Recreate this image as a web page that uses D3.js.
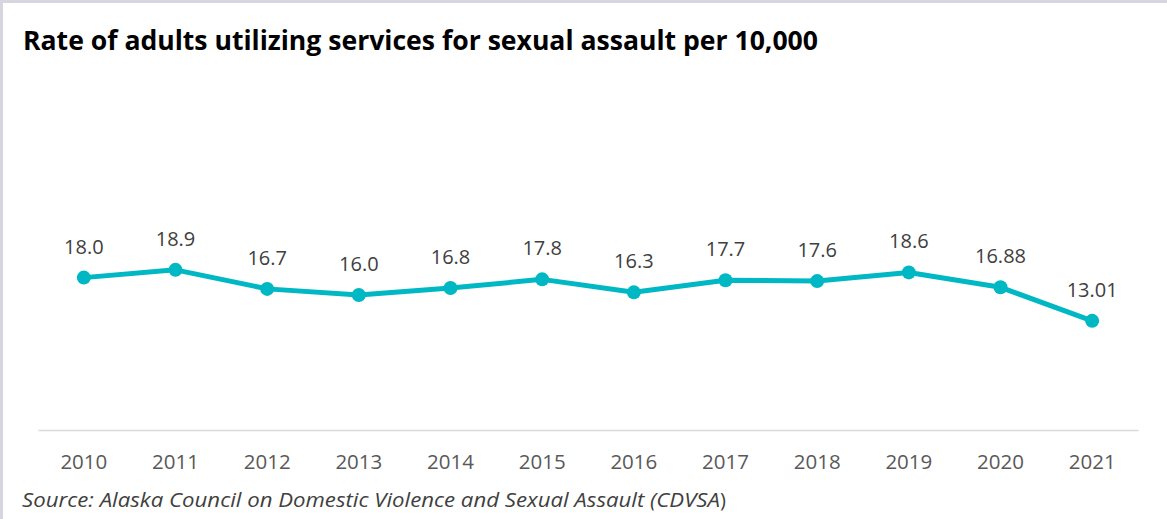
<!DOCTYPE html>
<html><head><meta charset="utf-8">
<script src="https://cdn.jsdelivr.net/npm/d3@7"></script>
<style>body{margin:0;background:#fff}svg{display:block}</style>
</head><body>
<script>
const years = ["2010","2011","2012","2013","2014","2015","2016","2017","2018","2019","2020","2021"];
const rates = [18.0,18.9,16.7,16.0,16.8,17.8,16.3,17.7,17.6,18.6,16.88,13.01];
const labels = ["18.0","18.9","16.7","16.0","16.8","17.8","16.3","17.7","17.6","18.6","16.88","13.01"];

const W = 1167, H = 519;
const svg = d3.select("body").append("svg").attr("width", W).attr("height", H);
svg.append("rect").attr("width", W).attr("height", H).attr("fill", "#fff");
// frame edges
svg.append("rect").attr("x",0).attr("y",0).attr("width",3).attr("height",H).attr("fill","#d6d6e0");
svg.append("rect").attr("x",0).attr("y",0).attr("width",W).attr("height",3).attr("fill","#d6d6e0");

const x = d3.scaleBand().domain(years).range([38, 1138]);
const y = d3.scaleLinear().domain([0, 20]).range([433.5, 433.5 - 8.66*20]);
const axisY = 430;

svg.append("text").attr("x", 23).attr("y", 50)
  .attr("font-family", "'Open Sans', sans-serif").attr("font-weight", 700)
  .attr("font-size", 26).attr("fill", "#000")
  .attr("textLength", 795).attr("lengthAdjust", "spacingAndGlyphs")
  .text("Rate of adults utilizing services for sexual assault per 10,000");

const axis = svg.append("g").attr("transform", `translate(0,${axisY})`)
  .call(d3.axisBottom(x).tickSize(0).tickPadding(0));
axis.select(".domain").attr("stroke", "#d9d9d9").attr("stroke-width", 1.5);
axis.selectAll("text").attr("font-family", "'Open Sans', sans-serif").attr("font-size", 20.5)
  .attr("fill", "#595959").attr("dy", null).attr("y", 39);

const cx = d => x(d) + x.bandwidth()/2;
const line = d3.line().x((d,i) => cx(years[i])).y(d => y(d));
svg.append("path").datum(rates).attr("d", line).attr("fill","none")
  .attr("stroke", "#00b8c4").attr("stroke-width", 5).attr("stroke-linejoin","round");
svg.selectAll("circle.pt").data(rates).join("circle").attr("class","pt")
  .attr("cx", (d,i) => cx(years[i])).attr("cy", d => y(d)).attr("r", 7).attr("fill", "#00b8c4");
svg.selectAll("text.lbl").data(rates).join("text").attr("class","lbl")
  .attr("x", (d,i) => cx(years[i])).attr("y", d => y(d) - 24)
  .attr("text-anchor", "middle").attr("font-family", "'Open Sans', sans-serif")
  .attr("font-size", 20).attr("fill", "#404040").text((d,i) => labels[i]);

const src = svg.append("text").attr("x", 22).attr("y", 507)
  .attr("font-family", "'Open Sans', sans-serif").attr("font-size", 20).attr("fill", "#404040");
src.append("tspan").attr("font-style", "italic")
  .attr("textLength", 698).attr("lengthAdjust", "spacingAndGlyphs")
  .text("Source: Alaska Council on Domestic Violence and Sexual Assault (CDVSA");
src.append("tspan").text(")");
</script>
</body></html>
